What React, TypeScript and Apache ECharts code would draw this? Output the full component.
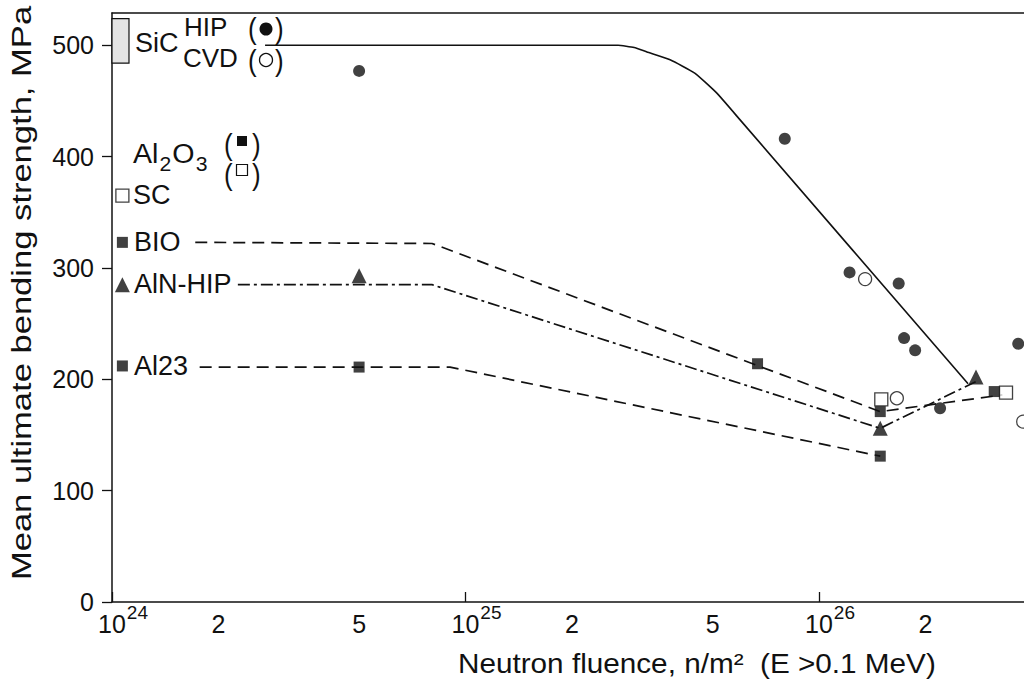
import React, { useEffect, useRef } from "react";
import * as echarts from "echarts";

// ---------- data (fluence in n/m^2, strength in MPa) ----------
const sicHipFluence = [5e24, 8.0e25, 1.22e26, 1.68e26, 1.74e26, 1.87e26, 2.2e26, 3.66e26];
const sicHipStrength = [477, 416, 296, 286, 237, 226, 174, 232];

const sicCvdFluence = [1.35e26, 1.66e26, 3.78e26];
const sicCvdStrength = [290, 183, 162];

const al2o3Fluence = [1.07e24, 1.07e24, 5e24, 6.7e25, 1.49e26, 1.49e26, 3.13e26];
const al2o3Strength = [323, 212, 211, 214, 171, 131, 189];

const scFluence = [1.07e24, 1.5e26, 3.38e26];
const scStrength = [365, 182, 188];

const alnFluence = [1.07e24, 5e24, 1.49e26, 2.78e26];
const alnStrength = [285, 293, 156, 202];

// trend lines
const sicLineFluence = [2.71e24, 2.7e25, 3.0e25, 3.26e25, 3.79e25, 4.45e25, 5.14e25, 5.98e25, 2.64e26];
const sicLineStrength = [500, 500, 498, 494, 487, 475, 457, 433, 196];

const bioLineFluence = [1.72e24, 8.04e24, 1.49e26, 3.3e26];
const bioLineStrength = [323, 322, 171, 186];

const alnLineFluence = [2.27e24, 8.04e24, 1.49e26, 2.78e26];
const alnLineStrength = [285, 285, 156, 198];

const al23LineFluence = [1.77e24, 9.04e24, 1.49e26];
const al23LineStrength = [211, 211, 131];

// unirradiated SiC range box: [fluence from, fluence to, strength low, strength high]
const sicRange = [[1e24, 1.117e24, 484, 524]];

// axes
const xTickFluence = [1e24, 2e24, 5e24, 1e25, 2e25, 5e25, 1e26, 2e26];
const xMajorFluence = [1e24, 1e25, 1e26];
const yTicks = [0, 100, 200, 300, 400, 500];
const xMinFluence = 1e24;
const xMaxFluence = 3.8e26;
const yMax = 529;

const FONT = '"Liberation Sans", Arial, Helvetica, sans-serif';
const INK = "#111";

const lg = (v: number) => Math.log10(v);
const pts = (xs: number[], ys: number[]) => xs.map((x, i) => [lg(x), ys[i]]);

export default function App() {
  const ref = useRef<HTMLDivElement>(null);

  useEffect(() => {
    if (!ref.current) return;
    const chart = echarts.init(ref.current, null, { renderer: "svg" });

    const txt = (text: string, x: number, y: number, size = 26, extra: any = {}, el: any = {}) => ({
      type: "text",
      x,
      y,
      style: {
        text,
        fontSize: size,
        fontFamily: FONT,
        fill: INK,
        align: "left",
        verticalAlign: "middle",
        ...extra,
      },
      z: 10,
      ...el,
    });

    const paren = (text: string, x: number, y: number) =>
      txt(text, x, y, 26, { lineHeight: 28 }, { scaleY: 1.1 });

    const option: any = {
      animation: false,
      backgroundColor: "#fff",
      textStyle: { fontFamily: FONT, color: INK },
      grid: { left: 112, right: 0, top: 13, bottom: 77, containLabel: false },
      xAxis: [
        {
          type: "value",
          min: lg(xMinFluence),
          max: lg(xMaxFluence),
          position: "bottom",
          splitLine: { show: false },
          axisLine: { show: true, lineStyle: { color: INK, width: 1.5 } },
          axisTick: {
            show: true,
            inside: true,
            length: 10,
            customValues: xMajorFluence.map(lg),
            lineStyle: { color: INK, width: 1.3 },
          },
          axisLabel: {
            customValues: xTickFluence.map(lg),
            margin: 7,
            color: INK,
            formatter: (v: number) => {
              const e = Math.round(v);
              if (Math.abs(v - e) < 1e-6) return `{h| }{b|10}{s|${e}}`;
              return `{b|${Math.round(Math.pow(10, v - Math.floor(v)))}}`;
            },
            rich: {
              b: { fontSize: 25, fontFamily: FONT, color: INK, lineHeight: 27, verticalAlign: "bottom" },
              s: { fontSize: 19, fontFamily: FONT, color: INK, lineHeight: 19, padding: [0, 0, 14, 1], verticalAlign: "bottom" },
              h: { fontSize: 19, fontFamily: FONT, color: INK, lineHeight: 19, width: 22, verticalAlign: "bottom" },
            },
          },
        },
        {
          type: "value",
          min: lg(xMinFluence),
          max: lg(xMaxFluence),
          position: "top",
          splitLine: { show: false },
          axisLine: { show: true, lineStyle: { color: INK, width: 1.5 } },
          axisTick: { show: false },
          axisLabel: { show: false },
        },
      ],
      yAxis: {
        type: "value",
        min: 0,
        max: yMax,
        splitLine: { show: false },
        axisLine: { show: true, lineStyle: { color: INK, width: 1.5 } },
        axisTick: { show: true, length: 10, customValues: yTicks, lineStyle: { color: INK, width: 1.3 } },
        axisLabel: { customValues: yTicks, fontSize: 25, color: INK, margin: 18, fontFamily: FONT },
      },
      series: [
        {
          type: "custom",
          renderItem: (params: any, api: any) => {
            const p1 = api.coord([lg(api.value(0)), api.value(3)]);
            const p2 = api.coord([lg(api.value(1)), api.value(2)]);
            return {
              type: "rect",
              shape: { x: p1[0], y: p1[1], width: p2[0] - p1[0], height: p2[1] - p1[1] },
              style: { fill: "#e4e4e4", stroke: INK, lineWidth: 1.2 },
            };
          },
          data: sicRange,
          z: 3,
        },
        {
          type: "line",
          data: pts(sicLineFluence, sicLineStrength),
          showSymbol: false,
          smooth: 0.15,
          lineStyle: { color: INK, width: 1.6, type: "solid" },
          z: 2,
        },
        {
          type: "line",
          data: pts(bioLineFluence, bioLineStrength),
          showSymbol: false,
          lineStyle: { color: INK, width: 1.7, type: [12, 7] },
          z: 2,
        },
        {
          type: "line",
          data: pts(alnLineFluence, alnLineStrength),
          showSymbol: false,
          lineStyle: { color: INK, width: 1.7, type: [12, 4, 3, 4] },
          z: 2,
        },
        {
          type: "line",
          data: pts(al23LineFluence, al23LineStrength),
          showSymbol: false,
          lineStyle: { color: INK, width: 1.7, type: [12, 7] },
          z: 2,
        },
        {
          type: "scatter",
          data: pts(sicHipFluence, sicHipStrength),
          symbol: "circle",
          symbolSize: 12,
          itemStyle: { color: INK },
          z: 5,
        },
        {
          type: "scatter",
          data: pts(sicCvdFluence, sicCvdStrength),
          symbol: "circle",
          symbolSize: 13,
          itemStyle: { color: "#fff", borderColor: INK, borderWidth: 1.3 },
          z: 5,
        },
        {
          type: "scatter",
          data: pts(al2o3Fluence, al2o3Strength),
          symbol: "rect",
          symbolSize: 11,
          itemStyle: { color: INK },
          z: 5,
        },
        {
          type: "scatter",
          data: pts(scFluence, scStrength),
          symbol: "rect",
          symbolSize: 13,
          itemStyle: { color: "#fff", borderColor: INK, borderWidth: 1.3 },
          z: 4,
        },
        {
          type: "scatter",
          data: pts(alnFluence, alnStrength),
          symbol: "triangle",
          symbolSize: 15,
          itemStyle: { color: INK },
          z: 5,
        },
      ],
      graphic: [
        // y-axis title
        {
          type: "text",
          x: 22,
          y: 293,
          rotation: Math.PI / 2,
          scaleX: 1.28,
          style: {
            text: "Mean ultimate bending strength, MPa",
            fontSize: 27,
            fontFamily: FONT,
            fill: INK,
            align: "center",
            verticalAlign: "middle",
          },
        },
        // x-axis title
        txt("Neutron fluence, n/m\u00B2  (E >0.1 MeV)", 458, 663, 27, {}, { scaleX: 1.1 }),
        // SiC legend
        txt("SiC", 135, 43, 27),
        txt("HIP", 184, 27, 26),
        txt("CVD", 183, 58, 26),
        paren("(", 248, 29),
        paren(")", 275, 29),
        paren("(", 248, 61),
        paren(")", 275, 61),
        { type: "circle", shape: { cx: 266, cy: 29, r: 6.5 }, style: { fill: INK }, z: 10 },
        { type: "circle", shape: { cx: 266, cy: 60, r: 6.5 }, style: { fill: "#fff", stroke: INK, lineWidth: 1.3 }, z: 10 },
        // Al2O3 legend
        {
          type: "text",
          x: 133,
          y: 140,
          scaleX: 1.06,
          style: {
            text: "{a|Al}{b|2}{a|O}{b|3}",
            fontFamily: FONT,
            fill: INK,
            rich: {
              a: { fontSize: 27, lineHeight: 27, verticalAlign: "top", fontFamily: FONT, fill: INK },
              b: { fontSize: 20, lineHeight: 20, padding: [14, 1, 0, 1], verticalAlign: "top", fontFamily: FONT, fill: INK },
            },
          },
          z: 10,
        },
        paren("(", 224, 145),
        paren(")", 252, 145),
        paren("(", 224, 175),
        paren(")", 252, 175),
        { type: "rect", shape: { x: 237, y: 136, width: 10, height: 10 }, style: { fill: INK }, z: 10 },
        { type: "rect", shape: { x: 236.5, y: 164.5, width: 11, height: 11 }, style: { fill: "#fff", stroke: INK, lineWidth: 1.2 }, z: 10 },
        // series labels
        txt("SC", 133, 195, 27),
        txt("BIO", 134, 242, 27),
        txt("AlN-HIP", 134, 284, 27),
        txt("Al23", 134, 366, 27),
      ],
    };

    chart.setOption(option);
    return () => chart.dispose();
  }, []);

  return (
    <div
      ref={ref}
      style={{ position: "fixed", left: 0, top: 0, width: 1024, height: 679, background: "#fff" }}
    />
  );
}
